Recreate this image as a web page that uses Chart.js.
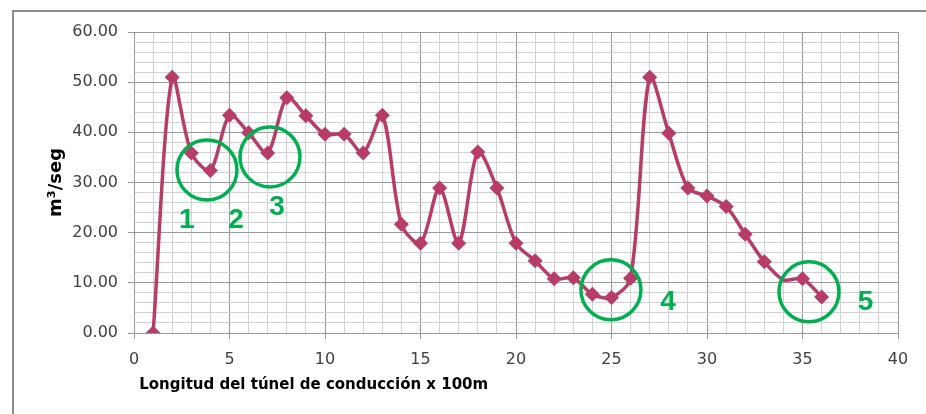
<!DOCTYPE html>
<html>
<head>
<meta charset="utf-8">
<script src="https://cdn.jsdelivr.net/npm/chart.js@4/dist/chart.umd.min.js"></script>
<style>
	html, body { margin: 0; padding: 0; background: #ffffff; }
	#wrap { width: 926px; height: 414px; position: relative; }
</style>
</head>
<body>
<div id="wrap"><canvas id="chart" width="926" height="414"></canvas></div>
<script>
// distancia (x 100m) y caudal (m3/seg)
const distances = [1, 2, 3, 4, 5, 6, 7, 8, 9, 10, 11, 12, 13, 14, 15, 16, 17, 18,
	19, 20, 21, 22, 23, 24, 25, 26, 27, 28, 29, 30, 31, 32, 33, 34, 35, 36];
const flows = [0, 51, 35.9, 32.4, 43.4, 39.9, 35.9, 46.9, 43.3, 39.6, 39.6, 35.9, 43.4, 21.7, 17.9, 28.9, 17.9, 36.1,
	28.9, 17.9, 14.4, 10.8, 11, 7.7, 7.1, 10.9, 51, 39.8, 28.9, 27.3, 25.2, 19.7, 14.2, 10.6, 10.8, 7.2];
// points drawn without a marker
const unmarked = [34];

const xTicks = [0, 5, 10, 15, 20, 25, 30, 35, 40];
const yTicks = [0, 10, 20, 30, 40, 50, 60];

// green circled spots and their numbers (data coordinates)
const circleSpots = [[3.82, 32.5], [7.12, 35.1], [24.97, 8.6], [35.34, 8.2]];
const spotLabels = ['1', '2', '3', '4', '5'];
const spotLabelPos = [[2.77, 22.5], [5.34, 22.5], [7.49, 25.1], [27.96, 6.2], [38.3, 6.2]];

const LINE = '#b83c68';
const GREEN = '#00b050';
const MAJOR = '#9a9a9a';
const MINOR = '#d2d2d2';

const frame = {
	id: 'frame',
	beforeDraw(chart) {
		const ctx = chart.ctx;
		ctx.save();
		ctx.strokeStyle = '#8c8c8c';
		ctx.lineWidth = 2;
		ctx.beginPath();
		ctx.moveTo(13, 414);
		ctx.lineTo(13, 11);
		ctx.lineTo(926, 11);
		ctx.stroke();
		ctx.restore();
	}
};

const spots = {
	id: 'spots',
	afterDatasetsDraw(chart) {
		const ctx = chart.ctx;
		const xs = chart.scales.x, ys = chart.scales.y;
		ctx.save();
		ctx.strokeStyle = GREEN;
		ctx.lineWidth = 3.5;
		circleSpots.forEach(([x, y]) => {
			ctx.beginPath();
			ctx.arc(xs.getPixelForValue(x), ys.getPixelForValue(y), 30, 0, Math.PI * 2);
			ctx.stroke();
		});
		ctx.fillStyle = GREEN;
		ctx.font = 'bold 28px "Liberation Sans", Arial, sans-serif';
		ctx.textAlign = 'center';
		ctx.textBaseline = 'middle';
		spotLabels.forEach((t, i) => {
			const [x, y] = spotLabelPos[i];
			ctx.fillText(t, xs.getPixelForValue(x), ys.getPixelForValue(y));
		});
		ctx.restore();
	}
};

const isMajor = (v, step) => Math.abs(v % step) < 1e-6;

new Chart(document.getElementById('chart'), {
	type: 'line',
	data: {
		datasets: [{
			data: distances.map((d, i) => ({ x: d, y: flows[i] })),
			borderColor: LINE,
			backgroundColor: LINE,
			borderWidth: 3.5,
			tension: 0.3,
			pointStyle: 'rectRot',
			pointRadius: (c) => unmarked.includes(distances[c.dataIndex]) ? 0 : 7.5,
			pointBorderWidth: 0,
			pointBackgroundColor: LINE
		}]
	},
	options: {
		responsive: false,
		animation: false,
		devicePixelRatio: 1,
		layout: { padding: { left: 14, top: 32, right: 28, bottom: 0 } },
		plugins: {
			legend: { display: false },
			tooltip: { enabled: false }
		},
		scales: {
			x: {
				type: 'linear',
				min: 0,
				max: 40,
				afterBuildTicks: (s) => { s.ticks = Array.from({ length: 41 }, (_, i) => ({ value: i })); },
				afterFit: (s) => { s.height = 81; },
				ticks: {
					autoSkip: false,
					maxRotation: 0,
					padding: 11,
					color: '#404040',
					font: { family: '"DejaVu Sans", sans-serif', size: 16 },
					callback: (v) => xTicks.includes(v) ? String(v) : ''
				},
				grid: {
					color: (c) => isMajor(c.tick.value, 5) ? MAJOR : MINOR,
					tickColor: (c) => isMajor(c.tick.value, 5) ? MAJOR : 'rgba(0,0,0,0)',
					tickLength: 6,
					lineWidth: 1
				},
				border: { color: MAJOR, width: 1 },
				title: {
					display: true,
					align: 'start',
					text: ' Longitud del túnel de conducción x 100m',
					color: '#000000',
					font: { family: '"DejaVu Sans", sans-serif', size: 15, weight: 'bold' },
					padding: { top: 0, bottom: 20 }
				}
			},
			y: {
				type: 'linear',
				min: 0,
				max: 60,
				afterBuildTicks: (s) => { s.ticks = Array.from({ length: 31 }, (_, i) => ({ value: i * 2 })); },
				afterFit: (s) => { s.width = 120; },
				ticks: {
					autoSkip: false,
					padding: 10,
					color: '#404040',
					font: { family: '"DejaVu Sans", sans-serif', size: 16 },
					callback: (v) => yTicks.includes(v) ? v.toFixed(2) : ''
				},
				grid: {
					color: (c) => isMajor(c.tick.value, 10) ? MAJOR : MINOR,
					tickColor: (c) => isMajor(c.tick.value, 10) ? MAJOR : 'rgba(0,0,0,0)',
					tickLength: 6,
					lineWidth: 1
				},
				border: { color: MAJOR, width: 1 },
				title: {
					display: true,
					text: 'm³/seg',
					color: '#000000',
					font: { family: '"DejaVu Sans", sans-serif', size: 18, weight: 'bold' },
					padding: { top: 32, bottom: 0 }
				}
			}
		}
	},
	plugins: [frame, spots]
});
</script>
</body>
</html>
